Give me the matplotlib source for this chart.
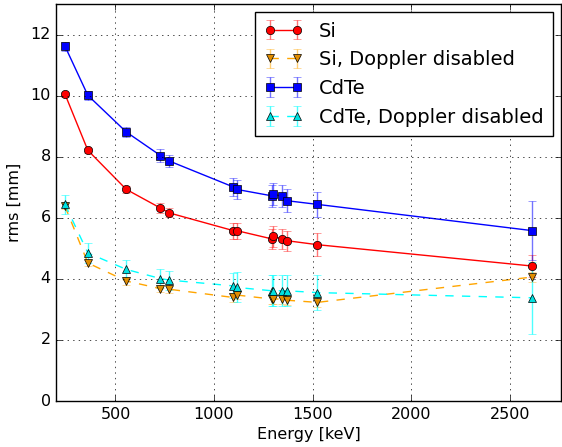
import matplotlib
matplotlib.use('agg')
import matplotlib.pyplot as plt

plt.style.use('classic')

# energies [keV]
energy = [244, 360, 555, 728, 773, 1098, 1115, 1293, 1298, 1345, 1370, 1524, 2614]

si = [10.05, 8.21, 6.93, 6.32, 6.16, 5.58, 5.58, 5.31, 5.39, 5.31, 5.25, 5.12, 4.42]
si_err = [0.08, 0.08, 0.12, 0.15, 0.15, 0.26, 0.26, 0.33, 0.33, 0.33, 0.33, 0.38, 0.35]

si_nodop = [6.38, 4.52, 3.93, 3.68, 3.66, 3.39, 3.47, 3.34, 3.34, 3.34, 3.30, 3.23, 4.06]
si_nodop_err = [0.10, 0.10, 0.12, 0.12, 0.12, 0.14, 0.14, 0.15, 0.15, 0.15, 0.15, 0.16, 0.15]

cdte = [11.62, 10.01, 8.81, 8.04, 7.86, 7.01, 6.93, 6.72, 6.78, 6.70, 6.56, 6.44, 5.58]
cdte_err = [0.15, 0.14, 0.16, 0.2, 0.2, 0.3, 0.3, 0.35, 0.35, 0.36, 0.37, 0.42, 0.97]

cdte_nodop = [6.44, 4.85, 4.31, 4.01, 3.96, 3.77, 3.72, 3.61, 3.61, 3.61, 3.61, 3.55, 3.38]
cdte_nodop_err = [0.32, 0.32, 0.30, 0.31, 0.31, 0.41, 0.49, 0.51, 0.51, 0.51, 0.51, 0.58, 1.18]

fig = plt.figure(figsize=(5.62, 4.47), dpi=100, facecolor='white')
ax = fig.add_axes([0.1002, 0.1029, 0.898, 0.888])

kw = dict(capsize=3, elinewidth=1, markeredgecolor='k', markeredgewidth=0.5,
          markersize=6, lw=1)
ax.errorbar(energy, si, yerr=si_err, fmt='o-', color='red', ecolor=(1, 0, 0, 0.55),
            label='Si', **kw)
ax.errorbar(energy, si_nodop, yerr=si_nodop_err, fmt='v--', color='orange',
            markerfacecolor='#e08c00', ecolor=(1, 0.65, 0, 0.55),
            label='Si, Doppler disabled', **kw)
ax.errorbar(energy, cdte, yerr=cdte_err, fmt='s-', color='blue', ecolor=(0, 0, 1, 0.55),
            label='CdTe', **kw)
ax.errorbar(energy, cdte_nodop, yerr=cdte_nodop_err, fmt='^--', color='cyan',
            markerfacecolor='#00e0e0', ecolor=(0, 1, 1, 0.7),
            label='CdTe, Doppler disabled', **kw)

ax.set_xlim(200, 2760)
ax.set_ylim(0, 13)
ax.set_xticks([500, 1000, 1500, 2000, 2500])
ax.set_yticks([0, 2, 4, 6, 8, 10, 12])
ax.grid(True)
ax.set_xlabel('Energy [keV]', fontsize=11.5, labelpad=4)
ax.set_ylabel('rms [mm]', fontsize=11.5, labelpad=6)
ax.tick_params(labelsize=11.5)
ax.legend(loc='upper right', numpoints=2, fontsize=14, borderaxespad=0.4,
          borderpad=0.5)

plt.savefig('out.png', dpi=100, facecolor='white')
